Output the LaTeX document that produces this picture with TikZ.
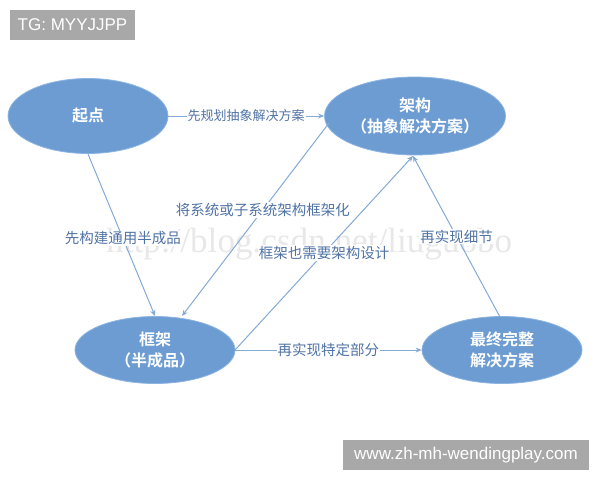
\documentclass[tikz,border=0pt]{standalone}
\usepackage{fontspec}
\setmainfont{Liberation Sans}
\newfontfamily\cjk{Noto Sans CJK SC}
\newfontfamily\cjkb{Noto Sans CJK SC Bold}
\newfontfamily\wmserif{Liberation Serif}
\usetikzlibrary{shapes.geometric,arrows.meta}
\definecolor{ellfill}{RGB}{108,156,210}
\definecolor{ellline}{RGB}{140,180,225}
\definecolor{conn}{RGB}{132,170,215}
\definecolor{lbl}{RGB}{80,115,165}
\definecolor{wmgray}{RGB}{168,168,168}
\tikzset{
  ell/.style={ellipse, fill=ellfill, draw=ellline, line width=0.8pt, inner sep=0pt,
    text=white, font=\cjkb\fontsize{16}{21}\selectfont, align=center},
  conline/.style={draw=conn, line width=1pt, -{Stealth[length=6pt,width=5pt]}},
  lab/.style={fill=white, text=lbl, inner sep=1pt, font=\cjk\fontsize{14.5}{16}\selectfont},
  wmbox/.style={fill=wmgray, text=white, inner sep=0pt, font=\fontsize{17}{20}\selectfont}
}
\begin{document}
\begin{tikzpicture}[x=1pt,y=-1pt]
\useasboundingbox (0,0) rectangle (600,480);
\fill[white] (0,0) rectangle (600,480);
% ellipses
\node[ell, minimum width=160pt, minimum height=75pt] (start) at (88,116) {起点};
\node[ell, minimum width=172pt, minimum height=78pt] (arch) at (415,116) {架构\\（抽象解决方案）};
\node[ell, minimum width=160pt, minimum height=67pt] (frame) at (155,350) {框架\\（半成品）};
\node[ell, minimum width=160pt, minimum height=67pt] (final) at (502,350) {最终完整\\解决方案};
% anchors for connectors
\coordinate (sb) at (88,154);
\coordinate (ft1) at (155,316);
\coordinate (ft2) at (182,316);
\coordinate (al) at (329,123);
\coordinate (ab) at (413,156);
\coordinate (fr) at (235,350);
\coordinate (fit) at (500,317);
% faint watermark
\node[text=black!9, inner sep=0pt, anchor=base west] (csdn) at (106,252)
  {\resizebox{406pt}{!}{\wmserif\fontsize{27}{30}\selectfont http://blog.csdn.net/liuguobo}};
% connectors
\draw[conline] (start.east) -- node[lab, font=\cjk\fontsize{13}{16}\selectfont] {先规划抽象解决方案} (arch.west);
\draw[conline] (sb) -- node[lab, pos=0.52] {先构建通用半成品} (ft1);
\draw[conline] (al) -- node[lab, pos=0.45] {将系统或子系统架构框架化} (ft2);
\draw[conline] (fr) -- node[lab, pos=0.5] {框架也需要架构设计} (ab);
\draw[conline] (fit) -- node[lab, pos=0.5] {再实现细节} (ab);
\draw[conline] (fr) -- node[lab] {再实现特定部分} (final.west);
% gray watermark boxes
\node[wmbox, minimum width=125pt, minimum height=30pt] (tg) at (72.5,25) {TG: MYYJJPP};
\node[wmbox, minimum width=246pt, minimum height=30pt] (www) at (466,455) {www.zh-mh-wendingplay.com};
\end{tikzpicture}
\end{document}
